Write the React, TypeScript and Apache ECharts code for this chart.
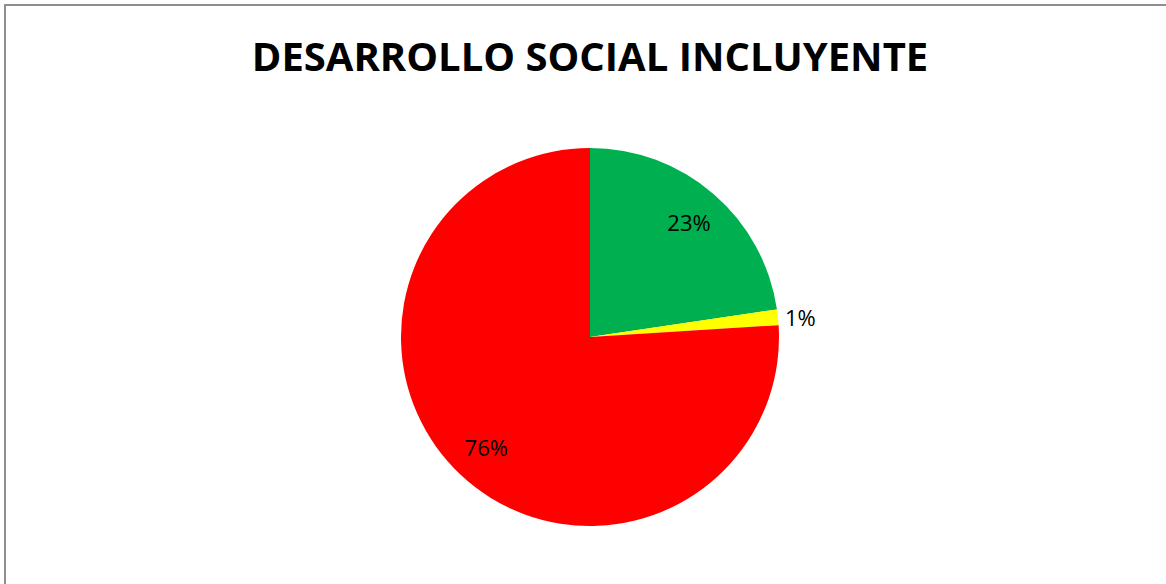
import React, { useEffect, useRef } from "react";
import * as echarts from "echarts";

const categories = ["Verde", "Amarillo", "Rojo"];
const values = [17, 1, 57];
const colors = ["#00B050", "#FFFF00", "#FF0000"];
const titleText = "DESARROLLO SOCIAL INCLUYENTE";

export default function App() {
  const ref = useRef<HTMLDivElement>(null);
  useEffect(() => {
    document.body.style.margin = "0";
    const chart = echarts.init(ref.current!, null, { renderer: "svg" });
    const data = categories.map((name, i) => ({
      name,
      value: values[i],
      itemStyle: { color: colors[i] },
    }));
    const fontFamily = "'Open Sans', sans-serif";
    chart.setOption({
      animation: false,
      backgroundColor: "#ffffff",
      title: {
        text: titleText,
        left: 585,
        top: 30,
        textAlign: "center",
        textStyle: { fontFamily, fontSize: 40, fontWeight: "bold", color: "#000" },
      },
      graphic: [
        {
          type: "rect",
          silent: true,
          shape: { x: 5, y: 5, width: 1300, height: 700 },
          style: { fill: "none", stroke: "#8f8f8f", lineWidth: 2 },
        },
      ],
      series: [
        {
          type: "pie",
          center: [590, 337],
          radius: [0, 189],
          startAngle: 90,
          clockwise: true,
          percentPrecision: 0,
          silent: true,
          data: data.map((d, i) => ({
            ...d,
            label: {
              show: i === 1,
              position: "outside",
              formatter: "{d}%",
              fontFamily,
              fontSize: 22,
              color: "#000",
              distanceToLabelLine: 4,
            },
            labelLine: { show: false, length: 3, length2: 0 },
          })),
        },
        {
          type: "pie",
          center: [590, 337],
          radius: [108, 189],
          startAngle: 90,
          clockwise: true,
          percentPrecision: 0,
          silent: true,
          z: 3,
          data: data.map((d, i) => ({
            name: d.name,
            value: d.value,
            itemStyle: { color: "rgba(0,0,0,0)" },
            label: {
              show: i !== 1,
              position: "inside",
              formatter: "{d}%",
              fontFamily,
              fontSize: 22,
              color: "#000",
            },
          })),
        },
      ],
    });
    return () => chart.dispose();
  }, []);
  return <div ref={ref} style={{ width: 1166, height: 584 }} />;
}
